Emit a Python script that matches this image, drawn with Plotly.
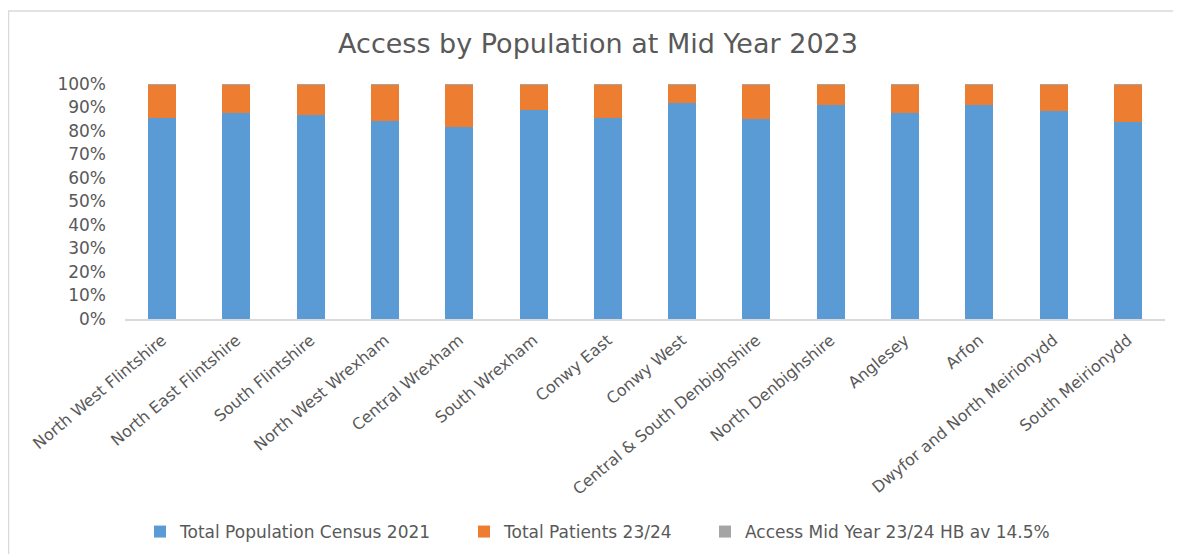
import plotly.graph_objects as go

categories = ["North West Flintshire", "North East Flintshire", "South Flintshire",
              "North West Wrexham", "Central Wrexham", "South Wrexham", "Conwy East",
              "Conwy West", "Central & South Denbighshire", "North Denbighshire",
              "Anglesey", "Arfon", "Dwyfor and North Meirionydd", "South Meirionydd"]
population_share = [85.6, 87.6, 86.8, 84.3, 81.5, 88.8, 85.6, 92.0, 85.1, 90.9, 87.6, 90.9, 88.5, 83.9]
access_share = [0.4] * len(categories)
patients_share = [round(100 - p - a, 2) for p, a in zip(population_share, access_share)]

grey = "#595959"
font_family = "DejaVu Sans, Verdana, sans-serif"

fig = go.Figure()
fig.add_bar(x=categories, y=population_share, name="Total Population Census 2021",
            marker=dict(color="#5B9BD5", line=dict(width=0)), legend="legend")
fig.add_bar(x=categories, y=patients_share, name="Total Patients 23/24",
            marker=dict(color="#ED7D31", line=dict(width=0)), legend="legend2")
fig.add_bar(x=categories, y=access_share, name="Access Mid Year 23/24 HB av 14.5%",
            marker=dict(color="#A5A5A5", line=dict(width=0)), legend="legend3")

# page has an 8px body margin, so figure coordinates = page coordinates - 8
OFF = 8
W, H = 1181 - OFF, 554 - OFF
L, R, T, B = 125 - OFF, 16, 84 - OFF, 235
pw, ph = W - L - R, H - T - B

def px_x(x):
    return (x - OFF - L) / pw

def px_y(y):
    return (H - B - (y - OFF)) / ph

def legend_at(x):
    return dict(orientation="h", x=px_x(x), xanchor="left", y=px_y(532), yanchor="middle",
                font=dict(size=17, color=grey, family=font_family),
                itemwidth=30, bgcolor="rgba(0,0,0,0)")

fig.update_layout(
    width=W, height=H,
    barmode="stack",
    bargap=0.623,
    margin=dict(l=L, r=R, t=T, b=B, autoexpand=False),
    paper_bgcolor="white", plot_bgcolor="white",
    font=dict(family=font_family, color=grey, size=15),
    title=dict(text="Access by Population at Mid Year 2023", x=px_x(598), xanchor="center",
               xref="paper", y=1 - (44 - OFF) / H, yanchor="middle", automargin=False,
               font=dict(size=27, color=grey, family=font_family)),
    showlegend=True,
    legend=legend_at(140),
    legend2=legend_at(464),
    legend3=legend_at(705),
    xaxis=dict(tickangle=-40, showline=True, linecolor="#D9D9D9", linewidth=1.5,
               ticks="", showgrid=False, automargin=False, ticklabelstandoff=4,
               tickfont=dict(size=16, color=grey)),
    yaxis=dict(range=[0, 100], tickvals=list(range(0, 101, 10)),
               ticktext=[f"{v}%" for v in range(0, 101, 10)],
               showgrid=False, zeroline=False, showline=False, ticks="", automargin=False,
               ticklabelstandoff=18,
               tickfont=dict(size=17, color=grey)),
    shapes=[dict(type="rect", xref="paper", yref="paper",
                 x0=px_x(8.5), x1=px_x(1200), y0=px_y(580), y1=px_y(11),
                 line=dict(color="#D9D9D9", width=1.5), fillcolor="rgba(0,0,0,0)", layer="below")],
)

fig.write_html("out.html")
